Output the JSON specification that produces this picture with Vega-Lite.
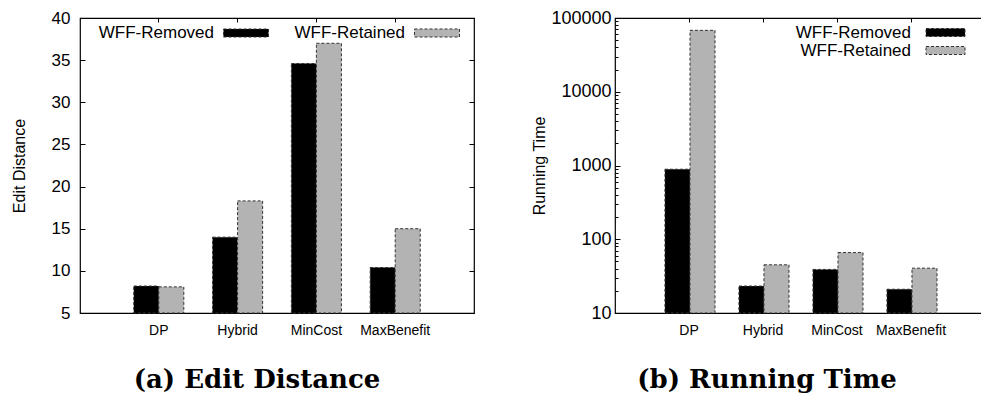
{
  "$schema": "https://vega.github.io/schema/vega-lite/v6.json",
  "background": "white",
  "padding": {"left": 10, "top": 8, "right": 0, "bottom": 0},
  "spacing": 141,
  "bounds": "flush",
  "config": {
    "view": {"stroke": "black", "strokeWidth": 1.2},
    "axis": {"labelFont": "Liberation Sans", "titleFont": "Liberation Sans", "labelColor": "black", "titleColor": "black", "tickColor": "black", "tickWidth": 1, "grid": false, "domain": false, "titleFontWeight": "normal"},
    "legend": {"labelFont": "Liberation Sans", "labelColor": "black", "labelFontSize": 17, "title": null, "symbolStrokeColor": "#333", "symbolStrokeWidth": 1, "symbolDash": [3, 2], "padding": 0}
  },
  "resolve": {"scale": {"color": "independent"}, "legend": {"color": "independent"}},
  "hconcat": [
    {
      "width": 394,
      "height": 295,
      "title": {"text": "(a) Edit Distance", "orient": "bottom", "frame": "group", "anchor": "middle", "font": "DejaVu Serif", "fontWeight": "bold", "fontSize": 26, "color": "black", "offset": 30, "dx": -20},
      "data": {"values": [
        {"method": "DP", "variant": "WFF-Removed", "value": 8.2},
        {"method": "DP", "variant": "WFF-Retained", "value": 8.1},
        {"method": "Hybrid", "variant": "WFF-Removed", "value": 14.0},
        {"method": "Hybrid", "variant": "WFF-Retained", "value": 18.3},
        {"method": "MinCost", "variant": "WFF-Removed", "value": 34.6},
        {"method": "MinCost", "variant": "WFF-Retained", "value": 37.0},
        {"method": "MaxBenefit", "variant": "WFF-Removed", "value": 10.4},
        {"method": "MaxBenefit", "variant": "WFF-Retained", "value": 15.0}
      ]},
      "resolve": {"axis": {"x": "independent", "y": "independent"}},
      "layer": [
        {
          "mark": {"type": "bar", "stroke": "#333", "strokeWidth": 1, "strokeDash": [3, 2]},
          "encoding": {
            "x": {"field": "method", "type": "nominal", "sort": null, "scale": {"paddingInner": 0.365, "paddingOuter": 0.6825},
                  "axis": {"orient": "bottom", "title": null, "labelAngle": 0, "ticks": false, "labelFontSize": 14, "labelPadding": 10}},
            "xOffset": {"field": "variant", "type": "nominal", "sort": null, "scale": {"paddingInner": 0, "paddingOuter": 0}},
            "y": {"field": "value", "type": "quantitative", "scale": {"domain": [5, 40], "nice": false, "zero": false},
                  "axis": {"orient": "left", "values": [5, 10, 15, 20, 25, 30, 35, 40], "title": "Edit Distance", "titleFontSize": 16, "titleX": -61, "titleY": 147.5, "titleBaseline": "middle", "titleAlign": "center", "labelFontSize": 17, "labelPadding": 15, "tickSize": -5}},
            "y2": {"datum": 5},
            "color": {"field": "variant", "type": "nominal", "sort": null,
                      "scale": {"domain": ["WFF-Removed", "WFF-Retained"], "range": ["#000000", "#b3b3b3"]},
                      "legend": {"orient": "none", "legendX": 143, "legendY": -8, "direction": "horizontal", "symbolType": "M-1,-0.178H1V0.178H-1Z", "symbolSize": 2025, "labelAlign": "right", "labelOffset": -55, "columnPadding": 23}}
          }
        },
        {
          "mark": {"type": "bar", "opacity": 0},
          "encoding": {
            "x": {"field": "method", "type": "nominal", "sort": null,
                  "axis": {"orient": "top", "title": null, "labels": false, "tickSize": -4}},
            "xOffset": {"field": "variant", "type": "nominal", "sort": null},
            "y": {"field": "value", "type": "quantitative",
                  "axis": {"orient": "right", "values": [5, 10, 15, 20, 25, 30, 35, 40], "title": null, "labels": false, "tickSize": -5}},
            "y2": {"datum": 5}
          }
        }
      ]
    },
    {
      "width": 370,
      "height": 295,
      "title": {"text": "(b) Running Time", "orient": "bottom", "frame": "group", "anchor": "middle", "font": "DejaVu Serif", "fontWeight": "bold", "fontSize": 26, "color": "black", "offset": 30, "dx": -33},
      "data": {"values": [
        {"method": "DP", "variant": "WFF-Removed", "value": 890},
        {"method": "DP", "variant": "WFF-Retained", "value": 68000},
        {"method": "Hybrid", "variant": "WFF-Removed", "value": 23.2},
        {"method": "Hybrid", "variant": "WFF-Retained", "value": 45},
        {"method": "MinCost", "variant": "WFF-Removed", "value": 39},
        {"method": "MinCost", "variant": "WFF-Retained", "value": 66},
        {"method": "MaxBenefit", "variant": "WFF-Removed", "value": 21},
        {"method": "MaxBenefit", "variant": "WFF-Retained", "value": 40.5}
      ]},
      "resolve": {"axis": {"x": "independent", "y": "independent"}},
      "layer": [
        {
          "mark": {"type": "bar", "stroke": "#333", "strokeWidth": 1, "strokeDash": [3, 2]},
          "encoding": {
            "x": {"field": "method", "type": "nominal", "sort": null, "scale": {"paddingInner": 0.35, "paddingOuter": 0.675},
                  "axis": {"orient": "bottom", "title": null, "labelAngle": 0, "ticks": false, "labelFontSize": 14, "labelPadding": 10}},
            "xOffset": {"field": "variant", "type": "nominal", "sort": null, "scale": {"paddingInner": 0, "paddingOuter": 0}},
            "y": {"field": "value", "type": "quantitative", "scale": {"type": "log", "domain": [10, 100000], "nice": false},
                  "axis": {"orient": "left", "values": [10, 100, 1000, 10000, 100000], "format": "d", "title": "Running Time", "titleFontSize": 16, "titleX": -76, "titleY": 147.5, "titleBaseline": "middle", "titleAlign": "center", "labelFontSize": 18, "labelPadding": 9, "tickSize": -5}},
            "y2": {"datum": 10},
            "color": {"field": "variant", "type": "nominal", "sort": null,
                      "scale": {"domain": ["WFF-Removed", "WFF-Retained"], "range": ["#000000", "#b3b3b3"]},
                      "legend": {"orient": "none", "legendX": 322, "legendY": 6, "direction": "vertical", "rowPadding": 0, "symbolType": "M-4.875,-1H4.875V1H-4.875Z", "symbolSize": 64, "labelAlign": "right", "labelOffset": -43}}
          }
        },
        {
          "mark": {"type": "bar", "opacity": 0},
          "encoding": {
            "x": {"field": "method", "type": "nominal", "sort": null,
                  "axis": {"orient": "top", "title": null, "labels": false, "tickSize": -4}},
            "xOffset": {"field": "variant", "type": "nominal", "sort": null},
            "y": {"field": "value", "type": "quantitative",
                  "axis": {"orient": "left", "values": [20, 30, 40, 50, 60, 70, 80, 90, 200, 300, 400, 500, 600, 700, 800, 900, 2000, 3000, 4000, 5000, 6000, 7000, 8000, 9000, 20000, 30000, 40000, 50000, 60000, 70000, 80000, 90000], "title": null, "labels": false, "tickSize": -3}},
            "y2": {"datum": 10}
          }
        }
      ]
    }
  ]
}
